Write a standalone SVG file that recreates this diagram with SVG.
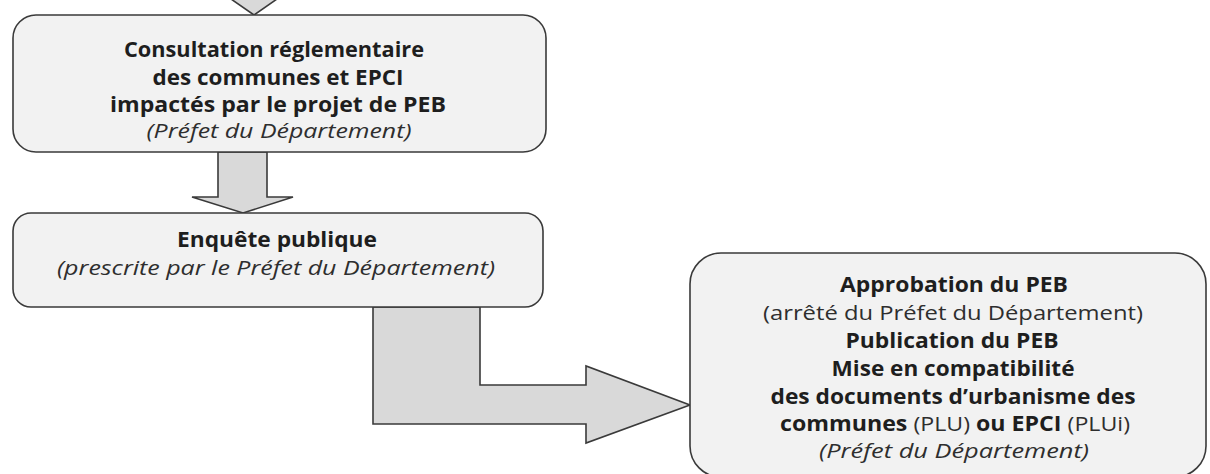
<svg xmlns="http://www.w3.org/2000/svg" width="1210" height="474" viewBox="0 0 1210 474">
  <style>
    .box { fill: #f2f2f2; stroke: #3a3a3a; stroke-width: 1.6; }
    .arrow { fill: #d9d9d9; stroke: #3a3a3a; stroke-width: 1.6; stroke-linejoin: miter; }
    text { font-family: "Open Sans", "Liberation Sans", sans-serif; font-size: 21.5px; fill: #1e1e1e; text-anchor: middle; }
    .b { font-weight: bold; }
    .i { font-style: italic; fill: #2e2e2e; font-size: 20.5px; }
    .r { font-weight: normal; fill: #2e2e2e; }
    .s { font-size: 20.5px; }
  </style>
  <rect width="1210" height="474" fill="#ffffff"/>

  <g id="connectors">
    <polygon class="arrow" points="231,-1 277,-1 254,15"/>
    <polygon class="arrow" points="218,152 267,152 267,197 293,197 243,213 192,197 218,197"/>
    <polygon class="arrow" points="373,307 480,307 480,385 586,385 586,366 690,405 586,443 586,424 373,424"/>
  </g>

  <g id="node-consultation">
    <rect class="box" x="13" y="15" width="533" height="137" rx="23" ry="23"/>
    <text class="b" x="274" y="57" textLength="300" lengthAdjust="spacingAndGlyphs">Consultation réglementaire</text>
    <text class="b" x="278" y="85" textLength="251" lengthAdjust="spacingAndGlyphs">des communes et EPCI</text>
    <text class="b" x="278" y="112" textLength="336" lengthAdjust="spacingAndGlyphs">impactés par le projet de PEB</text>
    <text class="i" x="279" y="138" textLength="265" lengthAdjust="spacingAndGlyphs">(Préfet du Département)</text>
  </g>

  <g id="node-enquete">
    <rect class="box" x="13" y="213" width="530" height="94" rx="18" ry="18"/>
    <text class="b" x="277" y="247" textLength="200" lengthAdjust="spacingAndGlyphs">Enquête publique</text>
    <text class="i" x="276" y="275" textLength="438" lengthAdjust="spacingAndGlyphs">(prescrite par le Préfet du Département)</text>
  </g>

  <g id="node-approbation">
    <rect class="box" x="690" y="253" width="516" height="224" rx="31" ry="31"/>
    <text class="b s" x="954" y="292" textLength="228" lengthAdjust="spacingAndGlyphs">Approbation du PEB</text>
    <text class="r s" x="953" y="320" textLength="380" lengthAdjust="spacingAndGlyphs">(arrêté du Préfet du Département)</text>
    <text class="b s" x="952" y="348" textLength="213" lengthAdjust="spacingAndGlyphs">Publication du PEB</text>
    <text class="b s" x="953" y="376" textLength="243" lengthAdjust="spacingAndGlyphs">Mise en compatibilité</text>
    <text class="b s" x="953" y="404" textLength="365" lengthAdjust="spacingAndGlyphs">des documents d’urbanisme des</text>
    <text class="b s" x="955" y="431" textLength="350" lengthAdjust="spacingAndGlyphs">communes <tspan class="r">(PLU)</tspan> ou EPCI <tspan class="r">(PLUi)</tspan></text>
    <text class="i" x="954" y="458" textLength="270" lengthAdjust="spacingAndGlyphs">(Préfet du Département)</text>
  </g>
</svg>
